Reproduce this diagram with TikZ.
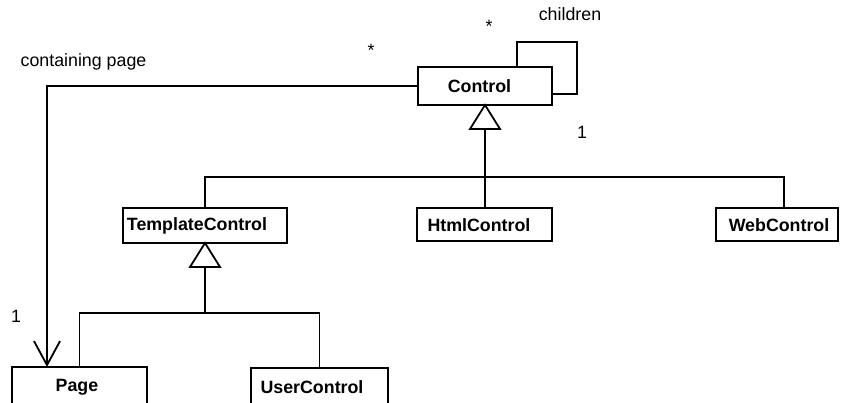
\documentclass[tikz,border=0pt]{standalone}
\usepackage{fontspec}
\setmainfont{Liberation Sans}
\usetikzlibrary{arrows.meta}
\begin{document}
\begin{tikzpicture}[x=1pt,y=-1pt, line width=1.8pt,
  cls/.style={draw, rectangle, inner sep=0pt, outer sep=0pt},
  clsname/.style={font=\fontsize{17.8}{20}\selectfont\bfseries, inner sep=0pt},
  note/.style={font=\fontsize{17.8}{20}\selectfont, inner sep=0pt, anchor=base},
  gentri/.style={draw, fill=white, line join=miter},
  assoc/.style={-{Straight Barb[length=24pt,width=26pt,line width=1.8pt]}},
]
\useasboundingbox (0,0) rectangle (842,403);
\clip (0,0) rectangle (842,403);

% class boxes
\node[cls, minimum width=134pt, minimum height=38pt] (control) at (485,86) {};
\node[cls, minimum width=164pt, minimum height=35pt] (tmpl) at (205,225.5) {};
\node[cls, minimum width=135pt, minimum height=33pt] (html) at (484.5,224.5) {};
\node[cls, minimum width=122pt, minimum height=33pt] (web) at (777,224.5) {};
\node[cls, minimum width=135pt, minimum height=53pt] (page) at (79.5,393.5) {};
\node[cls, minimum width=137pt, minimum height=52pt] (user) at (319.5,394) {};

% class names
\node[clsname] (tcontrol) at (479.5,86) {Control};
\node[clsname] (ttmpl) at (197,226) {TemplateControl};
\node[clsname] (thtml) at (479,225) {HtmlControl};
\node[clsname] (tweb) at (779,225) {WebControl};
\node[clsname] (tpage) at (77,387) {Page};
\node[clsname] (tuser) at (312,387) {UserControl};

% children: self association of Control
\draw ([xshift=32pt]control.north) -- ++(0,-25) -- ++(60,0)
      |- ([yshift=-8pt]control.east);

% containing page association
\draw[assoc] (control.west) -| ([xshift=-32.5pt]page.north);

% generalization: TemplateControl, HtmlControl, WebControl -> Control
\coordinate (cbase) at ([yshift=-24pt]control.south);
\draw (cbase) -- ++(0,48) coordinate (cbus);
\draw (tmpl.north) |- (cbus) -| ([xshift=7pt]web.north);
\draw (cbus) -- (cbus |- html.north);
\draw[gentri] (control.south) -- ++(-15,24) -- ++(30,0) -- cycle;

% generalization: Page, UserControl -> TemplateControl
\coordinate (tbase) at ([yshift=-24pt]tmpl.south);
\draw (tbase) -- ++(0,46) coordinate (tbus);
\draw (page.north) |- (tbus) -| (user.north);
\draw[gentri] (tmpl.south) -- ++(-15,24) -- ++(30,0) -- cycle;

% role names and multiplicities
\node[note] (lchildren) at (570,21) {children};
\node[note] (lstar1) at (489,33) {*};
\node[note] (lstar2) at (371,57) {*};
\node[note] (lone1) at (582,139) {1};
\node[note] (lcont) at (83.5,67) {containing page};
\node[note] (lone2) at (16,322) {1};
\end{tikzpicture}
\end{document}
